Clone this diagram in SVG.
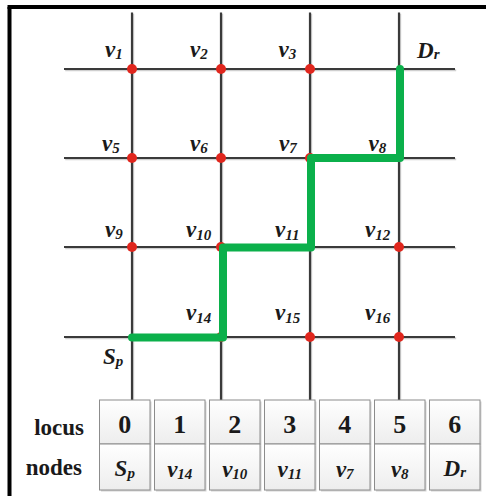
<svg xmlns="http://www.w3.org/2000/svg" width="486" height="496" viewBox="0 0 486 496">
<defs>
<style>
.grid{stroke:#3a3a3a;stroke-width:2.2;fill:none}
.gsh{stroke:#cfcfcf;stroke-width:2;fill:none}
.dot{fill:#e0261d}
.lab{font-family:"Liberation Serif",serif;font-weight:bold;font-style:italic;font-size:23px;fill:#1a1a1a}
.sub{font-size:15px}
.hdr{font-family:"Liberation Serif",serif;font-weight:bold;font-size:23px;fill:#1a1a1a}
.num{font-family:"Liberation Serif",serif;font-weight:bold;font-size:26px;fill:#1a1a1a}
.cell{fill:url(#cg);stroke:#8c8c8c;stroke-width:1}
.csh{fill:#d4d4d4}
</style>
<linearGradient id="cg" x1="0" y1="0" x2="0" y2="1">
<stop offset="0" stop-color="#ffffff"/>
<stop offset="1" stop-color="#ededed"/>
</linearGradient>
</defs>
<rect width="486" height="496" fill="#ffffff"/>
<g id="frame" stroke="#000" stroke-width="4" fill="none">
<line x1="9.5" y1="7" x2="9.5" y2="496"/>
<line x1="7.5" y1="7" x2="486" y2="7"/>
</g>
<g id="grid">
<g class="gsh" transform="translate(1.2,1.2)">
<line x1="64" y1="69" x2="455" y2="69"/>
<line x1="64" y1="158" x2="455" y2="158"/>
<line x1="64" y1="247" x2="455" y2="247"/>
<line x1="64" y1="337" x2="455" y2="337"/>
<line x1="132" y1="12.5" x2="132" y2="400"/>
<line x1="221" y1="12.5" x2="221" y2="400"/>
<line x1="310" y1="12.5" x2="310" y2="400"/>
<line x1="399" y1="12.5" x2="399" y2="400"/>
</g>
<g class="grid">
<line x1="64" y1="69" x2="455" y2="69"/>
<line x1="64" y1="158" x2="455" y2="158"/>
<line x1="64" y1="247" x2="455" y2="247"/>
<line x1="64" y1="337" x2="455" y2="337"/>
<line x1="132" y1="12.5" x2="132" y2="400"/>
<line x1="221" y1="12.5" x2="221" y2="400"/>
<line x1="310" y1="12.5" x2="310" y2="400"/>
<line x1="399" y1="12.5" x2="399" y2="400"/>
</g>
</g>
<g id="nodes">
<g id="v1"><circle class="dot" cx="132" cy="69" r="5"/><text class="lab" x="105" y="56.5">v<tspan class="sub" dy="2">1</tspan></text></g>
<g id="v2"><circle class="dot" cx="221" cy="69" r="5"/><text class="lab" x="190" y="56.5">v<tspan class="sub" dy="2">2</tspan></text></g>
<g id="v3"><circle class="dot" cx="310" cy="69" r="5"/><text class="lab" x="278.5" y="56.5">v<tspan class="sub" dy="2">3</tspan></text></g>
<g id="Dr"><text class="lab" x="417" y="57.5">D<tspan class="sub" dy="1">r</tspan></text></g>
<g id="v5"><circle class="dot" cx="132" cy="158" r="5"/><text class="lab" x="102" y="150.5">v<tspan class="sub" dy="2">5</tspan></text></g>
<g id="v6"><circle class="dot" cx="221" cy="158" r="5"/><text class="lab" x="190" y="150.5">v<tspan class="sub" dy="2">6</tspan></text></g>
<g id="v7"><circle class="dot" cx="310" cy="158" r="5"/><text class="lab" x="279" y="150.5">v<tspan class="sub" dy="2">7</tspan></text></g>
<g id="v8"><text class="lab" x="368.5" y="150.5">v<tspan class="sub" dy="2.5">8</tspan></text></g>
<g id="v9"><circle class="dot" cx="132" cy="247" r="5"/><text class="lab" x="105" y="236.5">v<tspan class="sub" dy="2">9</tspan></text></g>
<g id="v10"><circle class="dot" cx="221" cy="247" r="5"/><text class="lab" x="186" y="236.5">v<tspan class="sub" dy="3">10</tspan></text></g>
<g id="v11"><text class="lab" x="275" y="236.5">v<tspan class="sub" dy="3">11</tspan></text></g>
<g id="v12"><circle class="dot" cx="399" cy="247" r="5"/><text class="lab" x="365" y="236.5">v<tspan class="sub" dy="3">12</tspan></text></g>
<g id="v14"><circle class="dot" cx="221" cy="337" r="5"/><text class="lab" x="186" y="319.5">v<tspan class="sub" dy="3">14</tspan></text></g>
<g id="v15"><circle class="dot" cx="310" cy="337" r="5"/><text class="lab" x="275" y="319.5">v<tspan class="sub" dy="3">15</tspan></text></g>
<g id="v16"><circle class="dot" cx="399" cy="337" r="5"/><text class="lab" x="365" y="319.5">v<tspan class="sub" dy="3">16</tspan></text></g>
<g id="Sp"><text class="lab" x="103" y="363.5">S<tspan class="sub" dy="2.5">p</tspan></text></g>
</g>
<g id="connectors">
<polyline points="132,337.5 223,337.5 223,247.5 311,247.5 311,158 400,158 400,69" fill="none" stroke="#0bb04b" stroke-width="8" stroke-linecap="round" stroke-linejoin="round"/>
</g>
<g id="table">
<text class="hdr" x="84" y="435" text-anchor="end">locus</text>
<text class="hdr" x="82" y="475" text-anchor="end">nodes</text>
<g id="col0"><rect class="csh" x="101" y="401.5" width="50.5" height="44"/><rect class="csh" x="101" y="445.5" width="50.5" height="46"/><rect class="cell" x="99.5" y="400" width="50.5" height="44"/><rect class="cell" x="99.5" y="444" width="50.5" height="46"/><text class="num" x="124.75" y="432.5" text-anchor="middle">0</text><text class="lab" x="124.75" y="475.5" text-anchor="middle">S<tspan class="sub" dy="2.5">p</tspan></text></g>
<g id="col1"><rect class="csh" x="156" y="401.5" width="50.5" height="44"/><rect class="csh" x="156" y="445.5" width="50.5" height="46"/><rect class="cell" x="154.5" y="400" width="50.5" height="44"/><rect class="cell" x="154.5" y="444" width="50.5" height="46"/><text class="num" x="179.75" y="432.5" text-anchor="middle">1</text><text class="lab" x="179.75" y="476.5" text-anchor="middle">v<tspan class="sub" dy="2.5">14</tspan></text></g>
<g id="col2"><rect class="csh" x="211" y="401.5" width="50.5" height="44"/><rect class="csh" x="211" y="445.5" width="50.5" height="46"/><rect class="cell" x="209.5" y="400" width="50.5" height="44"/><rect class="cell" x="209.5" y="444" width="50.5" height="46"/><text class="num" x="234.75" y="432.5" text-anchor="middle">2</text><text class="lab" x="234.75" y="476.5" text-anchor="middle">v<tspan class="sub" dy="2.5">10</tspan></text></g>
<g id="col3"><rect class="csh" x="266" y="401.5" width="50.5" height="44"/><rect class="csh" x="266" y="445.5" width="50.5" height="46"/><rect class="cell" x="264.5" y="400" width="50.5" height="44"/><rect class="cell" x="264.5" y="444" width="50.5" height="46"/><text class="num" x="289.75" y="432.5" text-anchor="middle">3</text><text class="lab" x="289.75" y="476.5" text-anchor="middle">v<tspan class="sub" dy="2.5">11</tspan></text></g>
<g id="col4"><rect class="csh" x="321" y="401.5" width="50.5" height="44"/><rect class="csh" x="321" y="445.5" width="50.5" height="46"/><rect class="cell" x="319.5" y="400" width="50.5" height="44"/><rect class="cell" x="319.5" y="444" width="50.5" height="46"/><text class="num" x="344.75" y="432.5" text-anchor="middle">4</text><text class="lab" x="344.75" y="476.5" text-anchor="middle">v<tspan class="sub" dy="2">7</tspan></text></g>
<g id="col5"><rect class="csh" x="376" y="401.5" width="50.5" height="44"/><rect class="csh" x="376" y="445.5" width="50.5" height="46"/><rect class="cell" x="374.5" y="400" width="50.5" height="44"/><rect class="cell" x="374.5" y="444" width="50.5" height="46"/><text class="num" x="399.75" y="432.5" text-anchor="middle">5</text><text class="lab" x="399.75" y="476.5" text-anchor="middle">v<tspan class="sub" dy="2.5">8</tspan></text></g>
<g id="col6"><rect class="csh" x="431" y="401.5" width="50.5" height="44"/><rect class="csh" x="431" y="445.5" width="50.5" height="46"/><rect class="cell" x="429.5" y="400" width="50.5" height="44"/><rect class="cell" x="429.5" y="444" width="50.5" height="46"/><text class="num" x="454.75" y="432.5" text-anchor="middle">6</text><text class="lab" x="454.75" y="475.5" text-anchor="middle">D<tspan class="sub" dy="1">r</tspan></text></g>
</g>
</svg>
